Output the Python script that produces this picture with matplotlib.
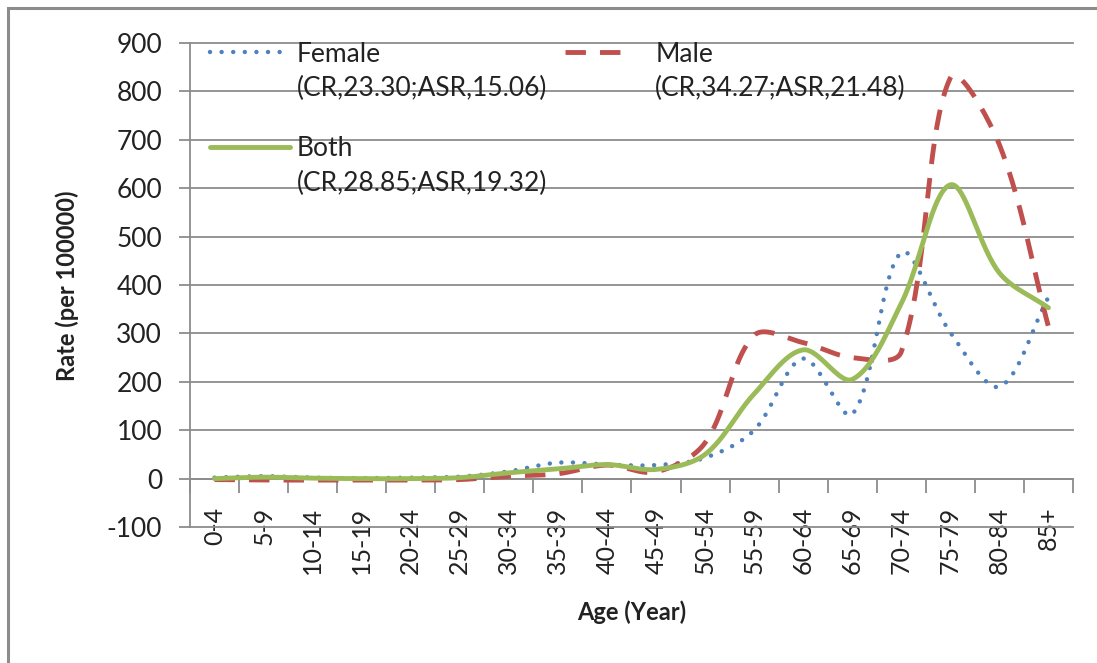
import numpy as np
import matplotlib.pyplot as plt
from matplotlib.lines import Line2D
from matplotlib.patches import Rectangle

plt.rcParams['font.family'] = ['Lato', 'DejaVu Sans']
plt.rcParams['axes.unicode_minus'] = False

ages = ['0-4', '5-9', '10-14', '15-19', '20-24', '25-29', '30-34', '35-39',
        '40-44', '45-49', '50-54', '55-59', '60-64', '65-69', '70-74',
        '75-79', '80-84', '85+']
female = [2, 5, 2, 1, 2, 4, 15, 33, 29, 28, 43, 100, 248, 133, 467, 302, 190, 375]
male = [-2, -3, -3, -3, -3, -2, 5, 10, 28, 14, 74, 296, 281, 250, 262, 828, 690, 314]
both = [0, 3, 1, 0, 0, 2, 12, 20, 29, 19, 50, 175, 266, 205, 362, 607, 425, 353]
labels = ['Female\n(CR,23.30;ASR,15.06)', 'Male\n(CR,34.27;ASR,21.48)',
          'Both\n(CR,28.85;ASR,19.32)']


def smooth(y, sx, sy, n=40):
    # excel-like smoothed line: cubic bezier, handles scaled by
    # the on-screen length of neighbouring segments
    y = np.asarray(y, float)
    x = np.arange(len(y), dtype=float)
    p = np.column_stack([x * sx, y * sy])
    pp = np.vstack([p[0], p, p[-1]])
    seglen = np.hypot(*np.diff(pp, axis=0).T)
    t = np.linspace(0, 1, n)[:, None]
    out = []
    for i in range(len(p) - 1):
        a, b = pp[i + 1], pp[i + 2]
        # outgoing handle at a
        din, dout = seglen[i], seglen[i + 1]
        ta = pp[i + 2] - pp[i]
        fa = dout / (din + dout) / 3 if din + dout > 0 else 0
        # incoming handle at b
        din2, dout2 = seglen[i + 1], seglen[i + 2]
        tb = pp[i + 3] - pp[i + 1]
        fb = din2 / (din2 + dout2) / 3 if din2 + dout2 > 0 else 0
        c1 = a + ta * fa
        c2 = b - tb * fb
        seg = ((1 - t) ** 3) * a + 3 * ((1 - t) ** 2) * t * c1 \
            + 3 * (1 - t) * t ** 2 * c2 + t ** 3 * b
        out.append(seg if i == 0 else seg[1:])
    out = np.vstack(out)
    return out[:, 0] / sx, out[:, 1] / sy


blue = '#4F81BD'
red = '#C0504D'
green = '#9BBB59'
grid_c = '#8C8C8C'
txt_c = '#222222'

fig = plt.figure(figsize=(10.97, 6.63), dpi=100)
ax = fig.add_axes([0.1732, 0.2051, 0.8049, 0.7300])
ax.set_xlim(-0.5, len(ages) - 0.5)
ax.set_ylim(-100, 900)

# pixels per data unit, for the smoothing
sx = fig.get_figwidth() * fig.dpi * 0.8049 / len(ages)
sy = fig.get_figheight() * fig.dpi * 0.7300 / 1000

styles = [
    dict(color=blue, lw=3.2, linestyle=(0, (0.01, 2.6)), dash_capstyle='round'),
    dict(color=red, lw=3.5, linestyle=(0, (4.2, 2.9)), dash_capstyle='butt'),
    dict(color=green, lw=3.5, linestyle='-', solid_capstyle='round'),
]
for vals, st in zip([female, male, both], styles):
    xs, ys = smooth(vals, sx, sy)
    ax.plot(xs, ys, **st, zorder=3)

ax.set_yticks(np.arange(-100, 901, 100))
ax.yaxis.grid(True, color=grid_c, lw=1.3)
for gl in ax.get_ygridlines():
    gl.set_clip_on(False)
ax.set_axisbelow(True)

ax.set_xticks(np.arange(len(ages)))
ax.set_xticklabels(ages)
ax.set_xticks(np.arange(len(ages) + 1) - 0.5, minor=True)
ax.tick_params(axis='x', which='major', length=0, pad=20, labelsize=18,
               labelcolor=txt_c, labelrotation=90)
ax.tick_params(axis='x', which='minor', length=10, width=1.3, color=grid_c,
               direction='out')
ax.tick_params(axis='y', length=8, width=1.3, color=grid_c, pad=12,
               labelsize=19, labelcolor=txt_c)
for lab in ax.get_xticklabels():
    lab.set_va('top')

for s in ['top', 'right']:
    ax.spines[s].set_visible(False)
ax.spines['bottom'].set_position(('data', 0))
ax.spines['bottom'].set_color(grid_c)
ax.spines['bottom'].set_linewidth(1.3)
ax.spines['left'].set_color(grid_c)
ax.spines['left'].set_linewidth(1.3)

fig.text(67 / 1097, 1 - 286 / 663, 'Rate (per 100000)', fontsize=17,
         fontweight='bold', rotation=90, ha='center', va='center', color=txt_c)
fig.text(0.5756, 1 - 612 / 663, 'Age (Year)', fontsize=17, fontweight='bold',
         ha='center', va='center', color=txt_c)

# legend drawn inside the plot area, no frame
hx = [(0.023, 0.108), (0.425, 0.496), (0.023, 0.113)]
hy = [0.981, 0.981, 0.785]
tx = [0.121, 0.527, 0.121]
ty = [0.942, 0.942, 0.746]
for st, lab, (x0, x1), y, x, yt in zip(styles, labels, hx, hy, tx, ty):
    ax.add_line(Line2D([x0, x1], [y, y], transform=ax.transAxes,
                       clip_on=False, zorder=4, **st))
    ax.text(x, yt, lab, transform=ax.transAxes, fontsize=19, color=txt_c,
            ha='left', va='center', linespacing=1.45, zorder=4)

fig.patches.append(Rectangle((8 / 1097, -0.1), 1.2, 1.1 - 8 / 663,
                             transform=fig.transFigure, fill=False,
                             edgecolor=grid_c, lw=2.2))

fig.savefig('out.png', dpi=100)
